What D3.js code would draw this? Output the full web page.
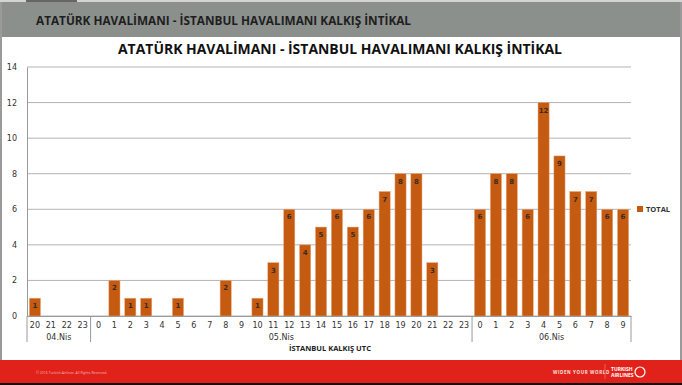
<!DOCTYPE html>
<html>
<head>
<meta charset="utf-8">
<script src="https://cdn.jsdelivr.net/npm/d3@7"></script>
<style>
  body { margin: 0; background: #fff; }
  svg { display: block; font-family: "Open Sans", "DejaVu Sans", sans-serif; }
</style>
</head>
<body>
<div id="my_dataviz"></div>
<script>
// groups (days) and the hours in each
var days = ["04.Nis", "05.Nis", "06.Nis"];
var hours04 = [20, 21, 22, 23];
var hours05 = [0, 1, 2, 3, 4, 5, 6, 7, 8, 9, 10, 11, 12, 13, 14, 15, 16, 17, 18, 19, 20, 21, 22, 23];
var hours06 = [0, 1, 2, 3, 4, 5, 6, 7, 8, 9];

// TOTAL values
var total04 = [1, 0, 0, 0];
var total05 = [0, 2, 1, 1, 0, 1, 0, 0, 2, 0, 1, 3, 6, 4, 5, 6, 5, 6, 7, 8, 8, 3, 0, 0];
var total06 = [6, 8, 8, 6, 12, 9, 7, 7, 6, 6];

var yTicks = [0, 2, 4, 6, 8, 10, 12, 14];
var seriesName = "TOTAL";
var pageTitle = "ATATÜRK HAVALİMANI - İSTANBUL HAVALIMANI KALKIŞ İNTİKAL";
var chartTitle = "ATATÜRK HAVALİMANI - İSTANBUL HAVALIMANI KALKIŞ İNTİKAL";
var axisTitle = "İSTANBUL KALKIŞ UTC";

var W = 682, H = 385;
var margin = {top: 67, left: 27, right: 51, bottom: 69};
var width = W - margin.left - margin.right,
    height = H - margin.top - margin.bottom;

// build rows
var data = [];
[[hours04, total04], [hours05, total05], [hours06, total06]].forEach(function(p, gi) {
  p[0].forEach(function(h, i) {
    data.push({day: days[gi], hour: h, value: p[1][i], key: gi + "-" + h});
  });
});

var svg = d3.select("#my_dataviz")
  .append("svg")
  .attr("width", W)
  .attr("height", H);

// page frame
svg.append("rect").attr("x", 0).attr("y", 0).attr("width", W).attr("height", H).attr("fill", "#fff");
svg.append("rect").attr("x", 0).attr("y", 0).attr("width", W).attr("height", 2).attr("fill", "#d4d4d4");
svg.append("rect").attr("x", 26).attr("y", 0).attr("width", 51).attr("height", 2).attr("fill", "#666");
svg.append("rect").attr("x", 0).attr("y", 2).attr("width", W).attr("height", 35).attr("fill", "#8b908d");
svg.append("line").attr("x1", 1).attr("x2", 1).attr("y1", 2).attr("y2", 360).attr("stroke", "#9a9a9a").attr("stroke-width", 2);
svg.append("line").attr("x1", 681).attr("x2", 681).attr("y1", 2).attr("y2", 360).attr("stroke", "#9a9a9a").attr("stroke-width", 2);
svg.append("text")
  .attr("x", 36).attr("y", 24.5)
  .attr("font-size", 12.5).attr("font-weight", "bold")
  .attr("textLength", 375).attr("lengthAdjust", "spacingAndGlyphs")
  .attr("fill", "#1e1e1e")
  .text(pageTitle);

// footer
svg.append("rect").attr("x", 0).attr("y", 360).attr("width", W).attr("height", 23).attr("fill", "#e1221a");
svg.append("rect").attr("x", 0).attr("y", 383).attr("width", W).attr("height", 2).attr("fill", "#111");
svg.append("text").attr("x", 36).attr("y", 374).attr("font-size", 3.5).attr("fill", "#f3b5b0")
  .text("© 2016 Turkish Airlines. All Rights Reserved.");
svg.append("text").attr("x", 553).attr("y", 374).attr("font-size", 4.5).attr("font-weight", "bold")
  .attr("fill", "#fbe0de").attr("letter-spacing", 0.6).text("WIDEN YOUR WORLD");
svg.append("line").attr("x1", 605).attr("x2", 605).attr("y1", 364).attr("y2", 379).attr("stroke", "#f08a84").attr("stroke-width", 0.6);
svg.append("text").attr("x", 611).attr("y", 371).attr("font-size", 5).attr("font-weight", "bold").attr("fill", "#fff").text("TURKISH");
svg.append("text").attr("x", 611).attr("y", 377).attr("font-size", 5).attr("font-weight", "bold").attr("fill", "#fff").text("AIRLINES");
svg.append("circle").attr("cx", 640).attr("cy", 372).attr("r", 5).attr("fill", "none").attr("stroke", "#fff").attr("stroke-width", 1.2);

// chart title
svg.append("text")
  .attr("x", 118).attr("y", 54)
  .attr("font-size", 14).attr("font-weight", "bold")
  .attr("textLength", 444).attr("lengthAdjust", "spacingAndGlyphs")
  .attr("fill", "#111")
  .text(chartTitle);

var g = svg.append("g")
  .attr("transform", "translate(" + margin.left + "," + margin.top + ")");

var x = d3.scaleBand()
  .domain(data.map(function(d) { return d.key; }))
  .range([0, width])
  .paddingInner(0.3)
  .paddingOuter(0.15);

var y = d3.scaleLinear()
  .domain([0, 14])
  .range([height, 0]);

// gridlines
g.selectAll(".grid")
  .data(yTicks)
  .enter().append("line")
  .attr("x1", 0).attr("x2", width)
  .attr("y1", function(d) { return y(d); })
  .attr("y2", function(d) { return y(d); })
  .attr("stroke", "#b4b4b4").attr("stroke-width", 1);

// y axis
var yAxis = g.append("g").call(d3.axisLeft(y).tickValues(yTicks).tickSize(0).tickPadding(10));
yAxis.select(".domain").attr("stroke", "#9a9a9a");
yAxis.selectAll("text").attr("font-size", 8).attr("fill", "#333").attr("font-family", "DejaVu Sans");

// bars
g.selectAll(".bar")
  .data(data.filter(function(d) { return d.value > 0; }))
  .enter().append("rect")
  .attr("x", function(d) { return x(d.key); })
  .attr("y", function(d) { return y(d.value); })
  .attr("width", x.bandwidth())
  .attr("height", function(d) { return height - y(d.value); })
  .attr("fill", "#c55a11")
  .attr("stroke", "#e8a77a").attr("stroke-width", 0.5);

g.selectAll(".lbl")
  .data(data.filter(function(d) { return d.value > 0; }))
  .enter().append("text")
  .attr("x", function(d) { return x(d.key) + x.bandwidth() / 2; })
  .attr("y", function(d) { return y(d.value) + 10; })
  .attr("text-anchor", "middle")
  .attr("font-size", 7).attr("font-weight", "bold")
  .attr("font-family", "DejaVu Sans")
  .attr("fill", "#3a2a20")
  .text(function(d) { return d.value; });

// x axis: hours
var xAxis = g.append("g")
  .attr("transform", "translate(0," + height + ")")
  .call(d3.axisBottom(x).tickSize(0).tickPadding(6)
    .tickFormat(function(k) { return k.split("-")[1]; }));
xAxis.select(".domain").attr("stroke", "#9a9a9a");
xAxis.selectAll("text").attr("font-size", 8).attr("fill", "#333").attr("font-family", "DejaVu Sans");

// day groups: separators and labels
var step = x.step();
var groups = days.map(function(dname) {
  var keys = data.filter(function(d) { return d.day === dname; }).map(function(d) { return d.key; });
  var x0 = x(keys[0]) - step * x.paddingInner() / 2;
  var x1 = x(keys[keys.length - 1]) + x.bandwidth() + step * x.paddingInner() / 2;
  return {name: dname, x0: x0, x1: x1};
});
groups[0].x0 = 0;
groups[groups.length - 1].x1 = width;

var sepX = [0].concat(groups.map(function(gr) { return gr.x1; }));
g.selectAll(".sep")
  .data(sepX)
  .enter().append("line")
  .attr("x1", function(d) { return d; }).attr("x2", function(d) { return d; })
  .attr("y1", height).attr("y2", height + 26)
  .attr("stroke", "#9a9a9a").attr("stroke-width", 1);

g.selectAll(".day")
  .data(groups)
  .enter().append("text")
  .attr("x", function(d) { return (d.x0 + d.x1) / 2; })
  .attr("y", height + 24)
  .attr("text-anchor", "middle")
  .attr("font-size", 8).attr("fill", "#333").attr("font-family", "DejaVu Sans")
  .text(function(d) { return d.name; });

g.append("text")
  .attr("x", 303).attr("y", height + 35)
  .attr("text-anchor", "middle")
  .attr("font-size", 7.5).attr("font-weight", "bold").attr("fill", "#222")
  .text(axisTitle);

// legend
var legend = svg.append("g").attr("transform", "translate(637,206)");
legend.append("rect").attr("width", 6).attr("height", 6).attr("fill", "#c55a11");
legend.append("text").attr("x", 9).attr("y", 6).attr("font-size", 7.5).attr("font-weight", "bold")
  .attr("fill", "#333").text(seriesName);
</script>
</body>
</html>
